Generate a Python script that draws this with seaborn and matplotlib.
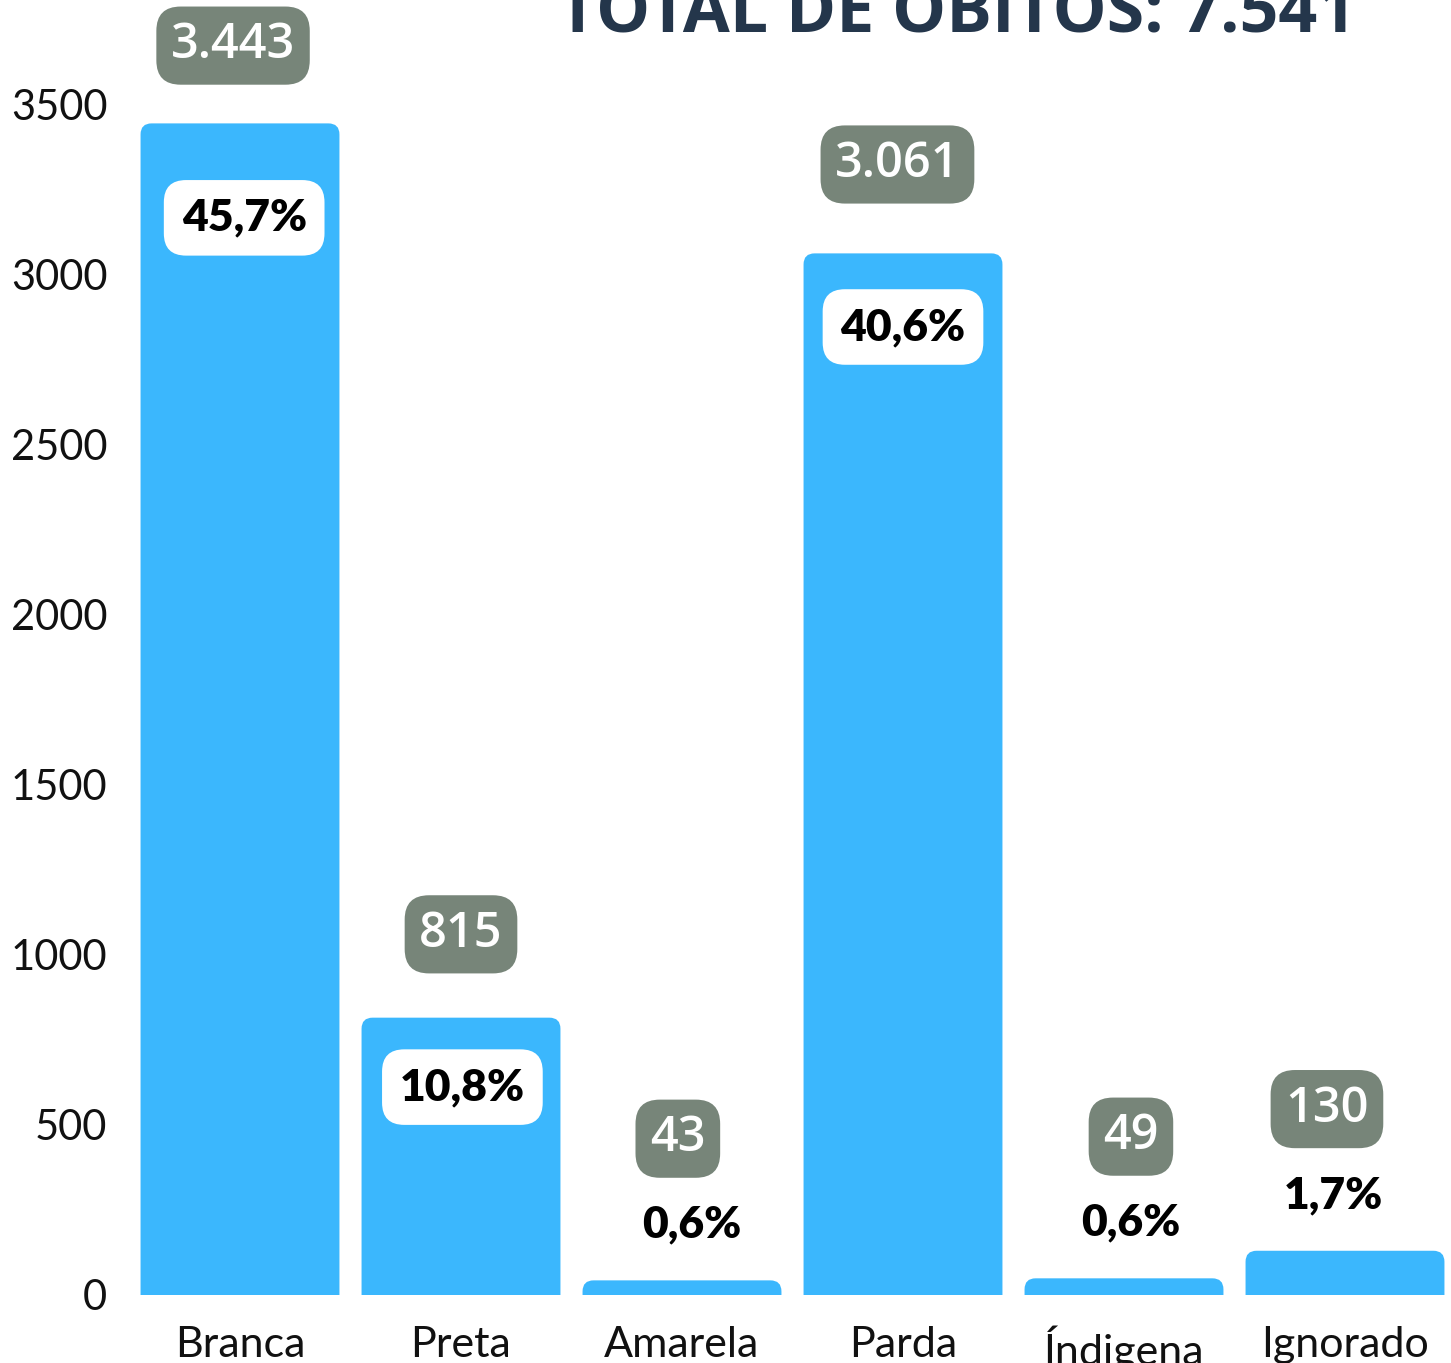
import seaborn as sns
import matplotlib.pyplot as plt
from matplotlib.patches import FancyBboxPatch

categories = ['Branca', 'Preta', 'Amarela', 'Parda', 'Índigena', 'Ignorado']
deaths = [3443, 815, 43, 3061, 49, 130]
count_labels = ['3.443', '815', '43', '3.061', '49', '130']
pct_labels = ['45,7%', '10,8%', '0,6%', '40,6%', '0,6%', '1,7%']
title = 'TOTAL DE ÓBITOS: 7.541'

bar_color = '#3BB7FD'
badge_color = '#778579'

# small nudges (points) for the labels, as in the original layout
badge_dx = [-5, 0, -3, -4, 5, -13]
badge_dy = [56, 60, 102, 64, 102, 102]
pct_dx = [3, 1, 7, 0, 5, -8]
pct_dy = [-68, -50, 40, -53, 40, 40]

sns.set_style('white')
plt.rcParams['font.family'] = ['Lato', 'DejaVu Sans']

W, H = 1451, 1363
fig = plt.figure(figsize=(W / 100, H / 100), dpi=100)
# axes: x from -0.5..5.5 spans 129.5..1455.5 px, y 0..3500 spans 1295..104 px
ax = fig.add_axes([129.5 / W, (H - 1295) / H, 1326 / W, (1295 - 104) / H])

sns.barplot(x=categories, y=deaths, color=bar_color, width=0.9,
            saturation=1, ax=ax)
ax.set_xlim(-0.5, 5.5)
ax.set_ylim(0, 3500)
ax.set_yticks(range(0, 3501, 500))
ax.tick_params(axis='y', length=0, pad=16, labelsize=30, labelcolor='#111111')
ax.tick_params(axis='x', length=0, pad=22, labelsize=31, labelcolor='#111111')
ax.set_xlabel('')
ax.set_ylabel('')
sns.despine(ax=ax, left=True, bottom=True)

# rounded top corners for bars
px_x = 1326 / 6.0
px_y = (1295 - 104) / 3500.0
r_px = 11
rx, ry = r_px / px_x, r_px / px_y
for p in list(ax.patches):
    x, w, h = p.get_x(), p.get_width(), p.get_height()
    p.remove()
    ax.add_patch(FancyBboxPatch((x, -ry), w, h + ry,
                                boxstyle=f'round,pad=0,rounding_size={rx}',
                                mutation_aspect=ry / rx,
                                fc=bar_color, ec='none'))

badge_box = dict(boxstyle='round,pad=0.3,rounding_size=0.5', fc=badge_color, ec='none')
white_box = dict(boxstyle='round,pad=0.4,rounding_size=0.5', fc='white', ec='none')

for i, (v, c, pc) in enumerate(zip(deaths, count_labels, pct_labels)):
    inside = v > 500
    ax.annotate(c, (i, v), xytext=(badge_dx[i], badge_dy[i]),
                textcoords='offset points', ha='center', va='center',
                fontsize=35, color='white', family='Open Sans',
                fontweight='semibold', bbox=badge_box, clip_on=False)
    ax.annotate(pc, (i, v), xytext=(pct_dx[i], pct_dy[i]),
                textcoords='offset points', ha='center', va='center',
                fontsize=32, color='black', fontweight='heavy',
                bbox=white_box if inside else None, clip_on=False)

fig.text(957 / W, (H - 32) / H, title, ha='center', va='baseline',
         fontsize=49, fontweight='bold', family='Open Sans', color='#24364B')

fig.savefig('out.png', dpi=100)
